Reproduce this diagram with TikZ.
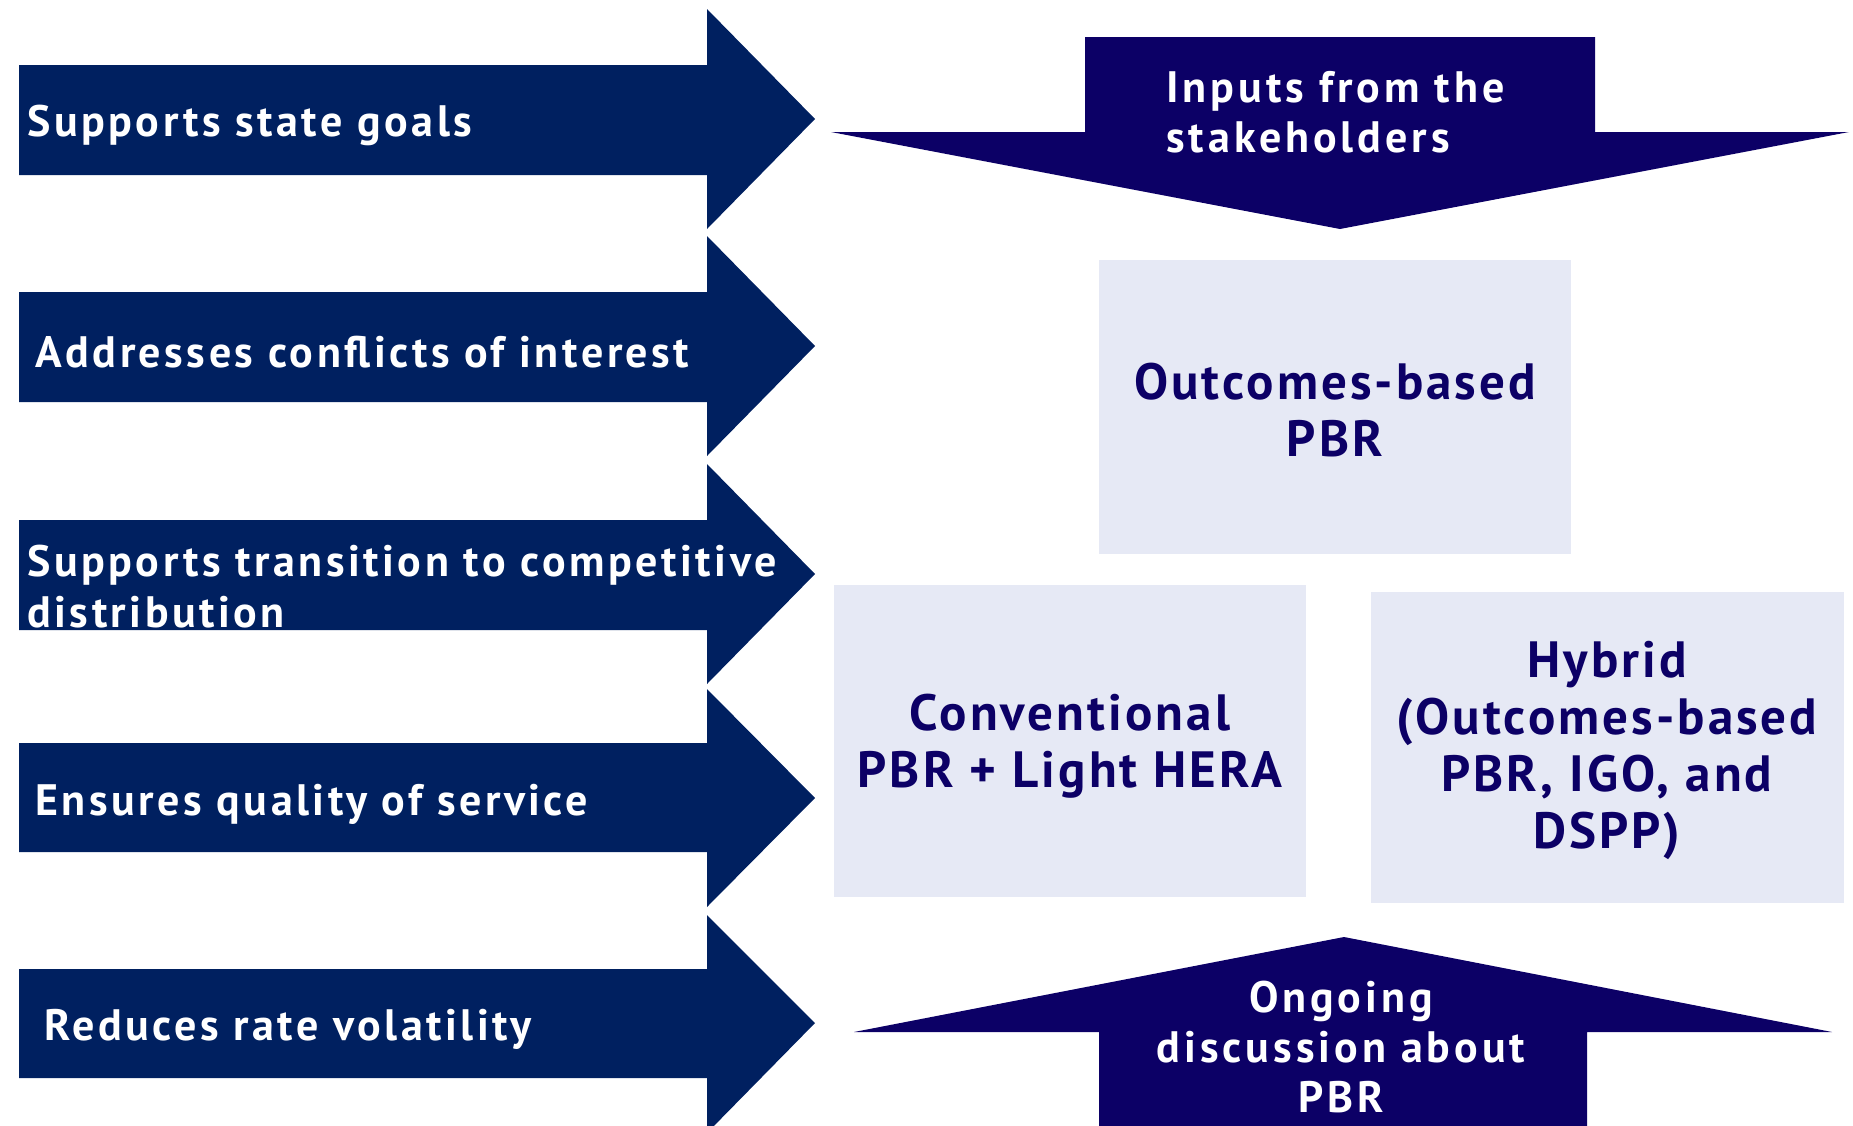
\documentclass[tikz,border=0pt]{standalone}
\definecolor{navyblue}{RGB}{0, 32, 96}
\definecolor{deepindigo}{RGB}{12, 0, 102}
\definecolor{paleblue}{RGB}{230, 233, 245}
\usepackage{fontspec}
\setmainfont{PT Sans}
\usepackage{tikz}

\begin{document}
\begin{tikzpicture}[x=0.5pt, y=-0.5pt,
    reason/.style={anchor=west, text=white, font=\bfseries\addfontfeatures{LetterSpace=8}\fontsize{22}{25.5}\selectfont, align=left, inner sep=0pt},
    flow/.style={text=white, font=\bfseries\addfontfeatures{LetterSpace=9}\fontsize{22}{25}\selectfont, inner sep=0pt},
    model/.style={text=deepindigo, font=\bfseries\addfontfeatures{LetterSpace=6}\fontsize{25.5}{28.5}\selectfont, align=center, inner sep=0pt}]
        \useasboundingbox (0,0) rectangle (1853,1125);

        % Reasons (arrows pointing right)
        \fill[navyblue] (19,65) -- (707,65) -- (707,9) -- (815,119) -- (707,229) -- (707,175) -- (19,175) -- cycle;
        \node[reason] (goals) at (27,125) {Supports state goals};

        \fill[navyblue] (19,292) -- (707,292) -- (707,236) -- (815,346) -- (707,456) -- (707,402) -- (19,402) -- cycle;
        \node[reason] (conflicts) at (35,352) {Addresses conflicts of interest};

        \fill[navyblue] (19,520) -- (707,520) -- (707,464) -- (815,574) -- (707,684) -- (707,630) -- (19,630) -- cycle;
        \node[reason] (transition) at (27,587) {Supports transition to competitive\\distribution};

        \fill[navyblue] (19,743) -- (707,743) -- (707,689) -- (815,798) -- (707,907) -- (707,852) -- (19,852) -- cycle;
        \node[reason] (quality) at (35,804) {Ensures quality of service};

        \fill[navyblue] (19,969) -- (707,969) -- (707,915) -- (815,1023) -- (707,1133) -- (707,1078) -- (19,1078) -- cycle;
        \node[reason] (volatility) at (44,1029) {Reduces rate volatility};

        % Inputs (arrow pointing down)
        \fill[deepindigo] (1085,37) -- (1595,37) -- (1595,132) -- (1849,132) -- (1340,229) -- (831,132) -- (1085,132) -- cycle;
        \node[flow, align=left, anchor=west] (inputs) at (1166,112) {Inputs from the\\stakeholders};

        % Models
        \fill[paleblue] (1099,260) rectangle (1571,554);
        \node[model] (outcomes) at (1335,410) {Outcomes-based\\PBR};

        \fill[paleblue] (834,585) rectangle (1306,897);
        \node[model] (conventional) at (1070,746) {Conventional\\PBR + Light HERA};

        \fill[paleblue] (1371,592) rectangle (1844,903);
        \node[model] (hybrid) at (1607,750) {Hybrid\\(Outcomes-based\\PBR, IGO, and\\DSPP)};

        % Discussion (arrow pointing up)
        \fill[deepindigo] (1344,937) -- (1832,1032) -- (1587,1032) -- (1587,1130) -- (1099,1130) -- (1099,1032) -- (854,1032) -- cycle;
        \node[flow, align=center] (discussion) at (1341,1047) {Ongoing\\discussion about\\PBR};
      \end{tikzpicture}
\end{document}
